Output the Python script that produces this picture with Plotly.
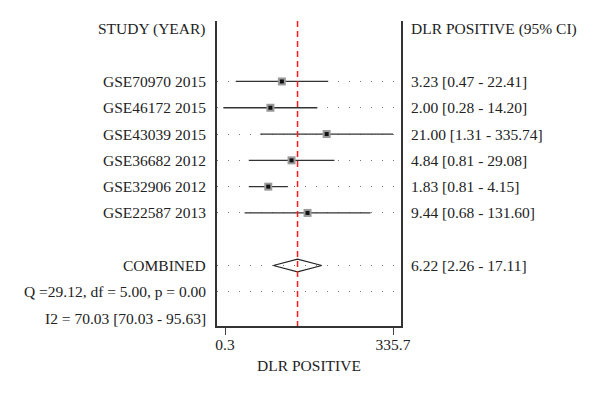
import plotly.graph_objects as go

studies = ["GSE70970", "GSE46172", "GSE43039", "GSE36682", "GSE32906", "GSE22587"]
years = [2015, 2015, 2015, 2012, 2012, 2013]
dlr = [3.23, 2.00, 21.00, 4.84, 1.83, 9.44]
ci_lo = [0.47, 0.28, 1.31, 0.81, 0.81, 0.68]
ci_hi = [22.41, 14.20, 335.74, 29.08, 4.15, 131.60]
combined = 6.22
combined_lo = 2.26
combined_hi = 17.11
q_stat, q_df, q_p = 29.12, 5.00, 0.00
i2, i2_lo, i2_hi = 70.03, 70.03, 95.63
x_ticks = [0.3, 335.7]
x_ticktext = ["0.3", "335.7"]

FONT = "Liberation Serif, Times New Roman, serif"
TXT = "#222222"
FS = 15.5

rows = list(range(2, 2 + len(studies)))
comb_row = rows[-1] + 2
q_row = comb_row + 1
i2_row = comb_row + 2

fig = go.Figure()

# CI lines
for r, lo, hi in zip(rows, ci_lo, ci_hi):
    fig.add_trace(go.Scatter(x=[lo, hi], y=[r, r], mode="lines",
                             line=dict(color="#333333", width=1.3),
                             hoverinfo="skip", showlegend=False))
# point estimates
fig.add_trace(go.Scatter(x=dlr, y=rows, mode="markers",
                         marker=dict(symbol="square", size=8, color="#9a9a9a",
                                     line=dict(width=0)),
                         showlegend=False))
fig.add_trace(go.Scatter(x=dlr, y=rows, mode="markers",
                         marker=dict(symbol="square", size=4, color="#111111",
                                     line=dict(width=0)),
                         showlegend=False))
# diamond
h = 0.24
fig.add_trace(go.Scatter(x=[combined_lo, combined, combined_hi, combined, combined_lo],
                         y=[comb_row, comb_row - h, comb_row, comb_row + h, comb_row],
                         mode="lines", line=dict(color="#222222", width=1.2),
                         showlegend=False))
# reference line
fig.add_trace(go.Scatter(x=[combined, combined], y=[-0.3, 11.3], mode="lines",
                         line=dict(color="#ff1a1a", width=1.5, dash="6px,4px"),
                         showlegend=False))

ann = []
def left(text, row):
    ann.append(dict(x=0, xref="paper", y=row, yref="y", text=text, showarrow=False,
                    xanchor="right", xshift=-9, yanchor="middle",
                    font=dict(family=FONT, size=FS, color=TXT)))
def right(text, row):
    ann.append(dict(x=1, xref="paper", y=row, yref="y", text=text, showarrow=False,
                    xanchor="left", xshift=8, yanchor="middle",
                    font=dict(family=FONT, size=FS, color=TXT)))

left("STUDY (YEAR)", 0)
right("DLR POSITIVE (95% CI)", 0)
for r, s, yr, v, lo, hi in zip(rows, studies, years, dlr, ci_lo, ci_hi):
    left(f"{s} {yr}", r)
    right(f"{v:.2f} [{lo:.2f} - {hi:.2f}]", r)
left("COMBINED", comb_row)
right(f"{combined:.2f} [{combined_lo:.2f} - {combined_hi:.2f}]", comb_row)
left(f"Q ={q_stat:.2f}, df = {q_df:.2f}, p = {q_p:.2f}", q_row)
left(f"I2 = {i2:.2f} [{i2_lo:.2f} - {i2_hi:.2f}]", i2_row)

fig.update_layout(
    width=600, height=395,
    margin=dict(l=209, r=207, t=13, b=77),
    paper_bgcolor="white", plot_bgcolor="white",
    font=dict(family=FONT, size=FS, color=TXT),
    annotations=ann,
    showlegend=False,
    xaxis=dict(type="log", range=[-0.668, 2.671], tickvals=x_ticks, ticktext=x_ticktext,
               ticks="outside", ticklen=7, tickcolor="#444", tickwidth=1.2,
               ticklabelstandoff=-3,
               showline=True, linecolor="#333333", linewidth=1.5,
               showgrid=False, zeroline=False,
               tickfont=dict(family=FONT, size=FS, color=TXT),
               title=dict(text="DLR POSITIVE", font=dict(family=FONT, size=FS, color=TXT),
                          standoff=8)),
    yaxis=dict(range=[11.3, -0.3], tickvals=rows + [comb_row, q_row], showticklabels=False,
               ticks="", showline=True, mirror=True, linecolor="#333333", linewidth=1.5,
               showgrid=True, gridcolor="#7a7a7a", gridwidth=1.2, griddash="1px,10px",
               zeroline=False),
)

fig.write_html("out.html")
